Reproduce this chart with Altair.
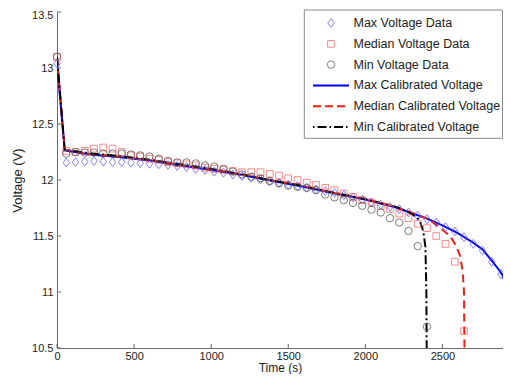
import altair as alt
import pandas as pd

# ---------------- data ----------------
t_max = [0, 60, 120, 180, 240, 300, 360, 420, 480, 540, 600, 660, 720, 780, 840, 900,
         960, 1020, 1080, 1140, 1200, 1260, 1320, 1380, 1440, 1500, 1560, 1620, 1680,
         1740, 1800, 1860, 1920, 1980, 2040, 2100, 2160, 2220, 2280, 2340, 2400, 2460,
         2520, 2580, 2640, 2700, 2760, 2820, 2880]
v_max = [13.04, 12.155, 12.16, 12.165, 12.17, 12.165, 12.16, 12.16, 12.155, 12.15, 12.145,
         12.14, 12.135, 12.125, 12.115, 12.10, 12.09, 12.075, 12.065, 12.05, 12.035, 12.02,
         12.005, 11.99, 11.975, 11.96, 11.945, 11.93, 11.915, 11.90, 11.885, 11.865, 11.845,
         11.825, 11.80, 11.78, 11.76, 11.74, 11.71, 11.68, 11.65, 11.62, 11.58, 11.54, 11.49,
         11.43, 11.37, 11.27, 11.16]

t_med = [0, 60, 120, 180, 240, 300, 360, 420, 480, 540, 600, 660, 720, 780, 840, 900,
         960, 1020, 1080, 1140, 1200, 1260, 1320, 1380, 1440, 1500, 1560, 1620, 1680,
         1740, 1800, 1860, 1920, 1980, 2040, 2100, 2160, 2220, 2280, 2340, 2400, 2460,
         2520, 2580, 2640]
v_med = [13.10, 12.26, 12.25, 12.26, 12.28, 12.29, 12.28, 12.25, 12.22, 12.21, 12.19,
         12.18, 12.16, 12.15, 12.14, 12.13, 12.11, 12.10, 12.09, 12.08, 12.07, 12.07,
         12.07, 12.055, 12.04, 12.015, 12.0, 11.975, 11.955, 11.93, 11.91, 11.88, 11.85,
         11.82, 11.80, 11.77, 11.74, 11.70, 11.66, 11.61, 11.57, 11.50, 11.43, 11.27, 10.65]

t_min = [0, 60, 120, 180, 240, 300, 360, 420, 480, 540, 600, 660, 720, 780, 840, 900,
         960, 1020, 1080, 1140, 1200, 1260, 1320, 1380, 1440, 1500, 1560, 1620, 1680,
         1740, 1800, 1860, 1920, 1980, 2040, 2100, 2160, 2220, 2280, 2340, 2400]
v_min = [13.10, 12.236, 12.25, 12.245, 12.245, 12.236, 12.236, 12.236, 12.227, 12.22,
         12.21, 12.19, 12.17, 12.157, 12.157, 12.148, 12.13, 12.12, 12.10, 12.075, 12.05,
         12.03, 12.015, 11.99, 11.97, 11.95, 11.94, 11.93, 11.91, 11.87, 11.845, 11.82,
         11.795, 11.77, 11.735, 11.71, 11.66, 11.62, 11.545, 11.41, 10.69]

tc_max = [0, 50, 200, 400, 600, 800, 1000, 1200, 1400, 1600, 1800, 2000, 2200, 2400,
          2500, 2600, 2700, 2760, 2820, 2860, 2890, 2910, 2922, 2930, 2935]
vc_max = [13.05, 12.265, 12.23, 12.205, 12.175, 12.13, 12.09, 12.045, 11.99, 11.94,
          11.88, 11.825, 11.755, 11.655, 11.595, 11.525, 11.44, 11.38, 11.28, 11.21,
          11.15, 11.06, 10.95, 10.80, 10.50]

tc_med = [0, 50, 200, 400, 600, 800, 1000, 1200, 1400, 1600, 1800, 2000, 2200, 2400,
          2450, 2500, 2550, 2590, 2615, 2632, 2640, 2643]
vc_med = [13.10, 12.27, 12.235, 12.21, 12.18, 12.135, 12.095, 12.05, 11.995, 11.945,
          11.885, 11.83, 11.76, 11.655, 11.61, 11.555, 11.50, 11.41, 11.32, 11.18, 11.0,
          10.50]

tc_min = [0, 50, 200, 400, 600, 800, 1000, 1200, 1400, 1600, 1800, 2000, 2200, 2300,
          2350, 2375, 2390, 2396, 2398]
vc_min = [13.10, 12.27, 12.24, 12.215, 12.18, 12.14, 12.10, 12.05, 11.995, 11.945,
          11.885, 11.83, 11.76, 11.70, 11.645, 11.55, 11.40, 11.0, 10.50]

x_ticks = [0, 500, 1000, 1500, 2000, 2500]
y_ticks = [10.5, 11, 11.5, 12, 12.5, 13, 13.5]

legend_labels = ["Max Voltage Data", "Median Voltage Data", "Min Voltage Data",
                 "Max Calibrated Voltage", "Median Calibrated Voltage",
                 "Min Calibrated Voltage"]

# ---------------- styling ----------------
W, H = 446, 336
FONT = "Liberation Sans"
C_DIA, C_SQ, C_CIR = "#5252ff", "#ff5a5a", "#484848"
C_BLUE, C_RED, C_BLACK = "#0000ff", "#f02010", "#000000"
DIAMOND = "M0,-1L0.72,0L0,1L-0.72,0Z"

xs = alt.Scale(domain=[0, 2893], nice=False, zero=False)
ys = alt.Scale(domain=[10.5, 13.5], nice=False, zero=False)

X = alt.X("t:Q", scale=xs,
          axis=alt.Axis(values=x_ticks, title="Time (s)", ticks=False, labelPadding=2,
                        format="d", labelFlush=False, titlePadding=1,
                        labelFontSize=11, titleFontSize=12))
Y = alt.Y("v:Q", scale=ys,
          axis=alt.Axis(values=y_ticks, title="Voltage (V)", ticks=False, labelPadding=4,
                        format="~g", labelFlush=False, titlePadding=7,
                        labelOffset={"condition": {"test": "datum.value >= 13.5", "value": 3},
                                     "value": 0},
                        labelFontSize=11, titleFontSize=13))


def df(t, v):
    return pd.DataFrame({"t": t, "v": v})


layers = []
# calibrated lines (blue below, red, black on top)
layers.append(alt.Chart(df(tc_max, vc_max)).mark_line(color=C_BLUE, strokeWidth=2, clip=True)
              .encode(x=X, y=Y, order="t:Q"))
layers.append(alt.Chart(df(tc_med, vc_med)).mark_line(color=C_RED, strokeWidth=2,
                                                      strokeDash=[8, 5], clip=True)
              .encode(x=X, y=Y, order="t:Q"))
layers.append(alt.Chart(df(tc_min, vc_min)).mark_line(color=C_BLACK, strokeWidth=2,
                                                      strokeDash=[9, 3, 2, 3], clip=True)
              .encode(x=X, y=Y, order="t:Q"))
# data markers
layers.append(alt.Chart(df(t_max, v_max)).mark_point(shape=DIAMOND, size=80, filled=False,
                                                     color=C_DIA, strokeWidth=1)
              .encode(x=X, y=Y))
layers.append(alt.Chart(df(t_med, v_med)).mark_point(shape="square", size=45, filled=False,
                                                     color=C_SQ, strokeWidth=1)
              .encode(x=X, y=Y))
layers.append(alt.Chart(df(t_min, v_min)).mark_point(shape="circle", size=55, filled=False,
                                                     color=C_CIR, strokeWidth=1)
              .encode(x=X, y=Y))

# inward tick marks
layers.append(alt.Chart(pd.DataFrame({"t": x_ticks})).mark_rule(color="#666", strokeWidth=1)
              .encode(x=alt.X("t:Q", scale=xs), y=alt.value(H), y2=alt.value(H - 4)))
layers.append(alt.Chart(pd.DataFrame({"v": y_ticks})).mark_rule(color="#666", strokeWidth=1)
              .encode(y=alt.Y("v:Q", scale=ys), x=alt.value(0), x2=alt.value(4)))

# manual legend
one = pd.DataFrame({"k": [0]})
LX0, LX1, LY0, LY1 = 247.3, 445.5, -2, 126.3
layers.append(alt.Chart(one).mark_rect(fill="white", stroke="#8a8a8a", strokeWidth=1)
              .encode(x=alt.value(LX0), x2=alt.value(LX1), y=alt.value(LY0), y2=alt.value(LY1)))
row0, step = 11, 20.8
sym_x, ln0, ln1, txt_x = 274, 256, 292, 296.5
sym_specs = [(DIAMOND, 80, C_DIA), ("square", 45, C_SQ), ("circle", 55, C_CIR)]
for i, (shp, sz, col) in enumerate(sym_specs):
    layers.append(alt.Chart(one).mark_point(shape=shp, size=sz, filled=False, color=col,
                                            strokeWidth=1)
                  .encode(x=alt.value(sym_x), y=alt.value(row0 + i * step)))
line_specs = [(C_BLUE, None), (C_RED, [8, 4]), (C_BLACK, [1.5, 3, 9, 3])]
for j, (col, dash) in enumerate(line_specs):
    kw = dict(color=col, strokeWidth=2)
    if dash:
        kw["strokeDash"] = dash
    yy = row0 + (3 + j) * step
    layers.append(alt.Chart(one).mark_rule(**kw)
                  .encode(x=alt.value(ln0), x2=alt.value(ln1), y=alt.value(yy)))
for i, lab in enumerate(legend_labels):
    layers.append(alt.Chart(one).mark_text(align="left", baseline="middle", fontSize=12.5,
                                           font=FONT, color="#222")
                  .encode(x=alt.value(txt_x), y=alt.value(row0 + i * step),
                          text=alt.value(lab)))

chart = alt.layer(*layers).properties(
    width=W, height=H,
    autosize=alt.AutoSizeParams(type="none"),
    padding={"left": 49, "top": 4, "right": 0, "bottom": 26},
).configure_view(stroke=None).configure_axis(
    grid=False, domainColor="#6a6a6a", domainWidth=1, labelFont=FONT, titleFont=FONT,
    labelColor="#222", titleColor="#222", titleFontWeight="normal"
)

chart.save("out.html", embed_options={"renderer": "svg", "actions": False})
